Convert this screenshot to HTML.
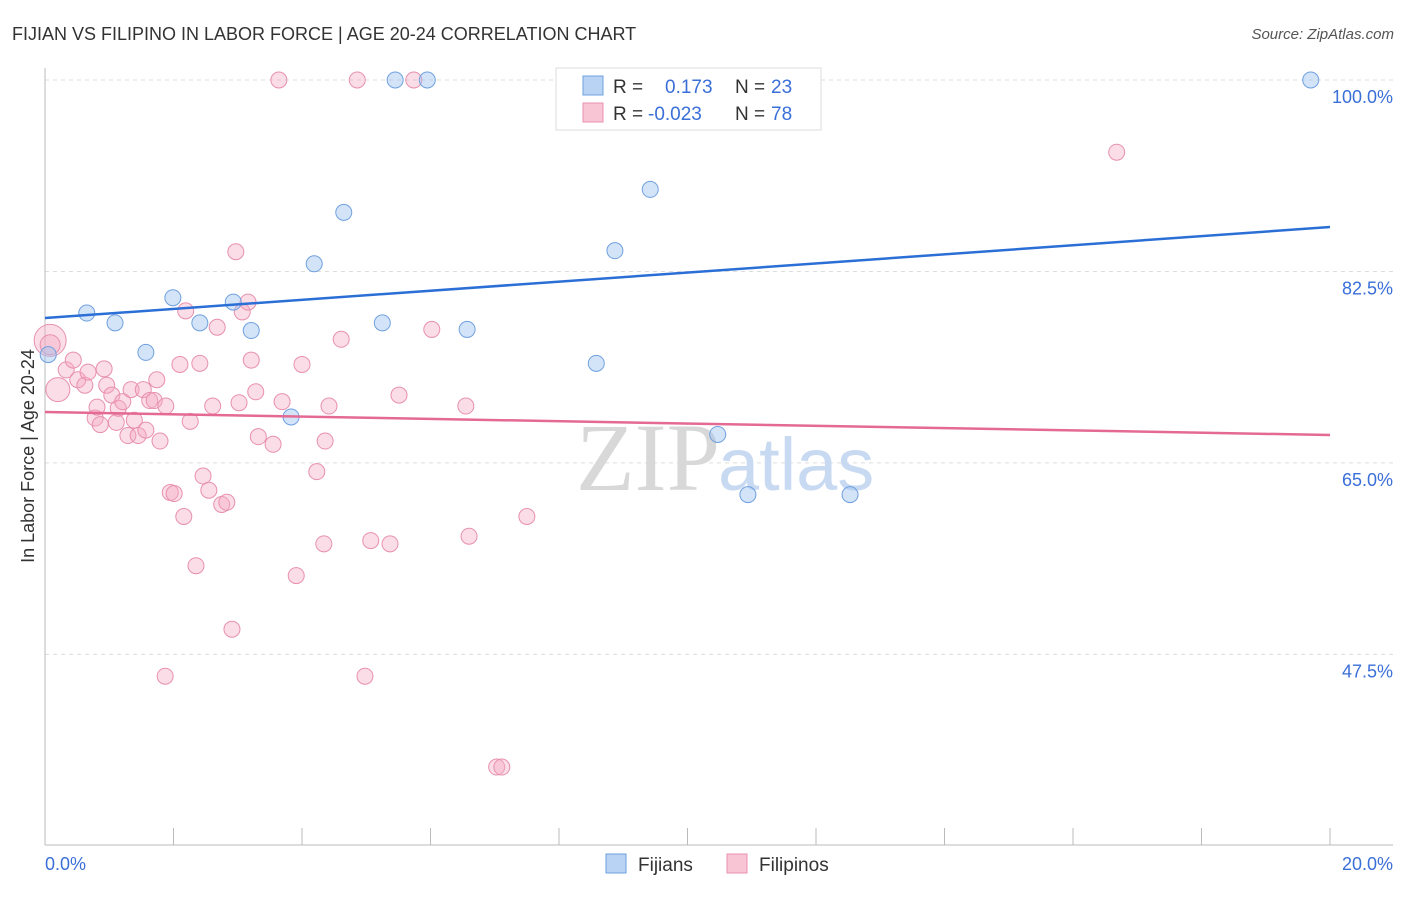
<!DOCTYPE html>
<html><head><meta charset="utf-8"><style>
body{margin:0;background:#fff;font-family:"Liberation Sans",sans-serif}
</style></head><body>
<svg width="1406" height="892" xmlns="http://www.w3.org/2000/svg" font-family="Liberation Sans, sans-serif">
<text x="12" y="40" font-size="18" fill="#333">FIJIAN VS FILIPINO IN LABOR FORCE | AGE 20-24 CORRELATION CHART</text>
<text x="1394" y="39" font-size="15" fill="#555" text-anchor="end" font-style="italic">Source: ZipAtlas.com</text>
<g id="grid"></g>
<g id="axes"></g>
<text x="720" y="490" font-size="96" fill="#d8d8d8" text-anchor="end" font-family="Liberation Serif, serif">ZIP</text>
<text x="718" y="490" font-size="74" fill="#c8daf2">atlas</text>
<g id="pts"></g>
<g id="lines"></g>
<g>
<rect x="556" y="68" width="265" height="62" fill="#fff" stroke="#ddd"/>
<rect x="583" y="76" width="20" height="19" fill="#b9d3f5" stroke="#6fa0e0"/>
<rect x="583" y="103" width="20" height="19" fill="#f8c5d5" stroke="#e890ae"/>
<text x="613" y="93" font-size="19" fill="#333">R = </text>
<text x="665" y="93" font-size="19" fill="#3a6fd8">0.173</text>
<text x="735" y="93" font-size="19" fill="#333">N = </text>
<text x="771" y="93" font-size="19" fill="#3a6fd8">23</text>
<text x="613" y="120" font-size="19" fill="#333">R = </text>
<text x="648" y="120" font-size="19" fill="#3a6fd8">-0.023</text>
<text x="735" y="120" font-size="19" fill="#333">N = </text>
<text x="771" y="120" font-size="19" fill="#3a6fd8">78</text>
</g>
<g>
<rect x="606" y="854" width="20" height="19" fill="#b9d3f5" stroke="#6fa0e0"/>
<text x="638" y="871" font-size="19" fill="#333">Fijians</text>
<rect x="727" y="854" width="20" height="19" fill="#f8c5d5" stroke="#e890ae"/>
<text x="759" y="871" font-size="19" fill="#333">Filipinos</text>
</g>
<text transform="translate(34,456) rotate(-90)" font-size="18" fill="#333" text-anchor="middle">In Labor Force | Age 20-24</text>
</svg>
<script>
const yTicks=[100,82.5,65,47.5];
const yTickLabels=["100.0%","82.5%","65.0%","47.5%"];
const xTickLabels=["0.0%","20.0%"];
const fijiX=[0.05,0.65,1.09,1.57,1.99,2.41,2.93,3.21,3.83,4.19,4.65,5.25,5.45,5.95,6.57,8.58,8.87,9.42,9.73,10.47,10.94,12.53,19.70];
const fijiY=[74.9,78.7,77.8,75.1,80.1,77.8,79.7,77.1,69.2,83.2,87.9,77.8,100,100,77.2,74.1,84.4,90.0,100,67.6,62.1,62.1,100];
const filX=[0.08,0.08,0.2,0.33,0.44,0.51,0.62,0.67,0.78,0.81,0.86,0.92,0.96,1.04,1.11,1.14,1.21,1.29,1.34,1.39,1.45,1.53,1.57,1.63,1.70,1.74,1.79,1.88,1.95,2.01,2.10,2.16,2.19,2.26,2.35,2.41,2.46,2.55,2.61,2.68,2.75,2.83,2.91,2.97,3.02,3.07,3.16,3.21,3.28,3.32,3.55,3.64,3.69,3.91,4.00,4.23,4.34,4.36,4.42,4.61,4.86,4.98,5.07,5.37,5.51,5.74,6.02,6.55,6.60,7.03,7.11,7.50,16.68,1.87];
const filY=[76.2,75.8,71.7,73.5,74.4,72.6,72.1,73.3,69.1,70.1,68.5,73.6,72.1,71.2,68.7,70.0,70.6,67.5,71.7,68.9,67.5,71.7,68.0,70.7,70.7,72.6,67.0,70.2,62.3,62.2,74.0,60.1,78.9,68.8,55.6,74.1,63.8,62.5,70.2,77.4,61.2,61.4,49.8,84.3,70.5,78.8,79.7,74.4,71.5,67.4,66.7,100,70.6,54.7,74.0,64.2,57.6,67.0,70.2,76.3,100,45.5,57.9,57.6,71.2,100,77.2,70.2,58.3,37.2,37.2,60.1,93.4,45.5];
const filR=[16,10,12];
const fijiTrend=[78.24,86.56];
const filTrend=[69.65,67.55];
const NS="http://www.w3.org/2000/svg";
const sx=v=>45+v/20*1285;
const sy=v=>80+(100-v)*10.94;
function mk(t,a,p){const e=document.createElementNS(NS,t);for(const k in a)e.setAttribute(k,a[k]);p.appendChild(e);return e;}
const grid=document.getElementById('grid'),axes=document.getElementById('axes');
yTicks.forEach((v,i)=>{
 const l=mk('line',{x1:45,x2:1393,y1:sy(v),y2:sy(v),stroke:'#ddd','stroke-dasharray':'4,4'},grid);
 
 
 const t=mk('text',{x:1393,y:sy(v)+23,'font-size':18,fill:'#3a6fd8','text-anchor':'end'},axes);
 t.textContent=yTickLabels[i];
 
 
});
mk('line',{x1:45,x2:45,y1:68,y2:845,stroke:'#bbb'},axes);
mk('line',{x1:45,x2:1393,y1:845,y2:845,stroke:'#bbb'},axes);
for(let i=0;i<=10;i++){const x=sx(i*2);const t=mk('line',{x1:x,x2:x,y1:828,y2:845,stroke:'#bbb'},axes);
 
 }
[[45,'start'],[1393,'end']].forEach((p,i)=>{const t=mk('text',{x:p[0],y:870,'font-size':18,fill:'#3a6fd8','text-anchor':p[1]},axes);t.textContent=xTickLabels[i];
 
 });
const pts=document.getElementById('pts');
filX.forEach((x,i)=>{const c=mk('circle',{cx:sx(x),cy:sy(filY[i]),r:filR[i]||8,fill:'rgba(245,170,196,0.4)',stroke:'#e890ae','stroke-width':1},pts);
 
 });
fijiX.forEach((x,i)=>{const c=mk('circle',{cx:sx(x),cy:sy(fijiY[i]),r:8,fill:'rgba(160,196,240,0.45)',stroke:'#6fa0e0','stroke-width':1},pts);
 
 });
const lines=document.getElementById('lines');
const b=mk('line',{x1:sx(0),x2:sx(20),y1:sy(fijiTrend[0]),y2:sy(fijiTrend[1]),stroke:'#2b6fd6','stroke-width':2.5},lines);


const p=mk('line',{x1:sx(0),x2:sx(20),y1:sy(filTrend[0]),y2:sy(filTrend[1]),stroke:'#e46a93','stroke-width':2.5},lines);


</script>
</body></html>
